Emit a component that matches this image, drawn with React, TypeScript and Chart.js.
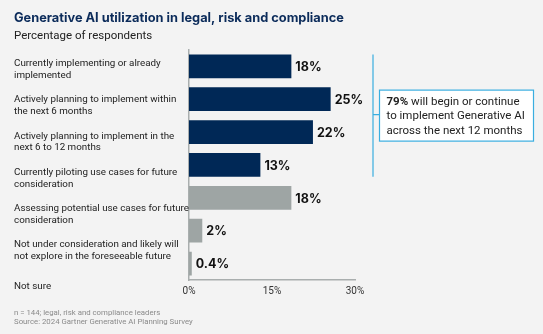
import React, { useEffect, useRef } from "react";
import { Chart, registerables } from "chart.js";

Chart.register(...registerables);

const categories: (string | string[])[] = [
  ["Currently implementing or already", "implemented"],
  ["Actively planning to implement within", "the next 6 months"],
  ["Actively planning to implement in the", "next 6 to 12 months"],
  ["Currently piloting use cases for future", "consideration"],
  ["Assessing potential use cases for future", "consideration"],
  ["Not under consideration and likely will", "not explore in the foreseeable future"],
  ["Not sure"],
];
const values = [18.5, 25.6, 22.4, 12.9, 18.5, 2.4, 0.5];
const valueLabels = ["18%", "25%", "22%", "13%", "18%", "2%", "0.4%"];
const barColors = ["#002856", "#002856", "#002856", "#002856", "#9ea5a4", "#9ea5a4", "#9ea5a4"];
const xTicks = [0, 15, 30];
const titleText = "Generative AI utilization in legal, risk and compliance";
const subtitleText = "Percentage of respondents";
const footerLines = [
  "n = 144; legal, risk and compliance leaders",
  "Source: 2024 Gartner Generative AI Planning Survey",
];
const calloutBold = "79%";
const calloutLines = [" will begin or continue", "to implement Generative AI", "across the next 12 months"];
const bracketFrom = 0;
const bracketTo = 3;

const FONT = "Inter, 'Noto Sans', sans-serif";
const BODY = "Roboto, 'Noto Sans', sans-serif";

const overlayPlugin = {
  id: "overlay",
  afterDatasetsDraw(chart: any) {
    const ctx = chart.ctx;
    const meta = chart.getDatasetMeta(0);
    ctx.save();
    // value labels
    ctx.fillStyle = "#111";
    ctx.font = `bold 12.5px ${FONT}`;
    ctx.textBaseline = "middle";
    ctx.textAlign = "left";
    meta.data.forEach((el: any, i: number) => {
      ctx.fillText(valueLabels[i], el.x + 4, el.y + 1);
    });
    // bracket
    const a = meta.data[bracketFrom];
    const b = meta.data[bracketTo];
    const top = a.y - a.height / 2;
    const bottom = b.y + b.height / 2;
    const bx = chart.chartArea.right + 18;
    const mid = (top + bottom) / 2 - 1;
    ctx.strokeStyle = "#3aaee0";
    ctx.lineWidth = 1.2;
    ctx.beginPath();
    ctx.moveTo(bx, top);
    ctx.lineTo(bx, bottom);
    ctx.moveTo(bx, mid);
    ctx.lineTo(bx + 6, mid);
    ctx.stroke();
    // callout box
    const boxX = bx + 6.5;
    const boxW = 154;
    const boxH = 51;
    const boxY = mid - 24.5;
    ctx.fillStyle = "#ffffff";
    ctx.fillRect(boxX, boxY, boxW, boxH);
    ctx.strokeRect(boxX, boxY, boxW, boxH);
    ctx.fillStyle = "#222";
    const tx = boxX + 7;
    const lh = 14.5;
    const y0 = boxY + 12;
    ctx.font = `bold 11.5px ${BODY}`;
    ctx.fillText(calloutBold, tx, y0);
    const bw = ctx.measureText(calloutBold).width;
    ctx.font = `11.5px ${BODY}`;
    ctx.fillText(calloutLines[0], tx + bw, y0);
    ctx.fillText(calloutLines[1], tx, y0 + lh);
    ctx.fillText(calloutLines[2], tx, y0 + 2 * lh);
    // footer
    ctx.fillStyle = "#8a8a8a";
    ctx.font = `7.8px ${BODY}`;
    ctx.fillText(footerLines[0], 14, 313);
    ctx.fillText(footerLines[1], 14, 322);
    ctx.restore();
  },
};

export default function App() {
  const ref = useRef<HTMLCanvasElement>(null);
  useEffect(() => {
    if (!ref.current) return;
    const chart = new Chart(ref.current, {
      type: "bar",
      data: {
        labels: categories.map((c) => (Array.isArray(c) ? c.join(" ") : c)),
        datasets: [
          {
            data: values,
            backgroundColor: barColors,
            categoryPercentage: 1,
            barPercentage: 0.72,
            yAxisID: "y",
          },
        ],
      },
      options: {
        indexAxis: "y",
        animation: false,
        responsive: false,
        maintainAspectRatio: false,
        layout: { padding: { left: 14, right: 188, top: 0, bottom: 32 } },
        plugins: {
          legend: { display: false },
          tooltip: { enabled: false },
          title: {
            display: true,
            text: titleText,
            align: "start",
            color: "#0b2b5a",
            font: { family: FONT, size: 12.8, weight: "bold" },
            padding: { top: 10.5, bottom: 0 },
          },
          subtitle: {
            display: true,
            text: subtitleText,
            align: "start",
            color: "#222",
            font: { family: BODY, size: 11.5 },
            padding: { top: 3, bottom: 7.2 },
          },
        },
        scales: {
          x: {
            type: "linear",
            min: 0,
            max: 30,
            afterBuildTicks: (s: any) => {
              s.ticks = xTicks.map((v) => ({ value: v }));
            },
            ticks: {
              callback: (v: any) => `${v}%`,
              color: "#333",
              font: { family: BODY, size: 10 },
              padding: 5,
            },
            grid: { display: false, drawTicks: false },
            border: { display: true, color: "#a9aeae", width: 1.5 },
          },
          y: {
            type: "category",
            display: false,
          },
          yl: {
            type: "linear",
            position: "left",
            reverse: true,
            offset: false,
            min: -0.554,
            max: 5.82,
            afterBuildTicks: (s: any) => {
              s.ticks = categories.map((_, i) => ({ value: i }));
            },
            afterFit: (s: any) => {
              s.width = 175;
            },
            ticks: {
              autoSkip: false,
              crossAlign: "far",
              callback: (v: any) => categories[v as number],
              color: "#222",
              font: { family: BODY, size: 9.8, lineHeight: 1.22 },
            },
            grid: { display: false, drawTicks: false, offset: false },
            border: { display: true, color: "#a9aeae", width: 1.5 },
          },
        },
      },
      plugins: [overlayPlugin],
    } as any);
    return () => chart.destroy();
  }, []);
  return (
    <div
      style={{
        position: "fixed",
        left: 0,
        top: 0,
        width: 543,
        height: 334,
        background: "#f3f3f3",
      }}
    >
      <canvas ref={ref} width={543} height={334} style={{ width: 543, height: 334, display: "block" }} />
    </div>
  );
}
